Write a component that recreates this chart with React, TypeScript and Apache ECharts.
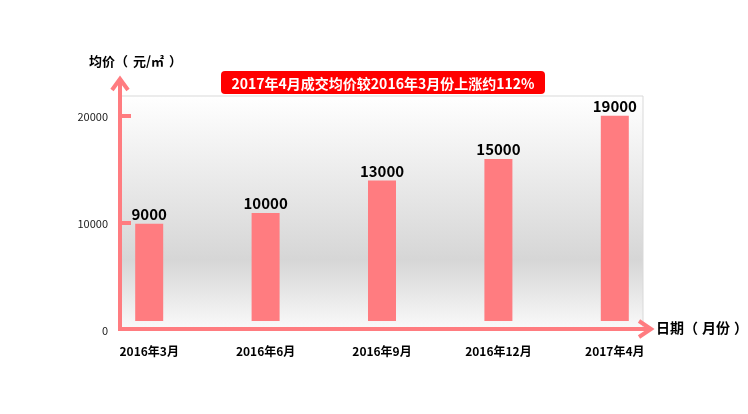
import React, { useEffect, useRef } from "react";
import * as echarts from "echarts";

const categories = ["2016年3月", "2016年6月", "2016年9月", "2016年12月", "2017年4月"];
const prices = [9000, 10000, 13000, 15000, 19000];
const yTickLabels = [0, 10000, 20000];
const yTickMarks = [10000, 20000];
const yNameParts = ["均价", "（", "元/㎡", "）"];
const xNameParts = ["日期", "（", "月份", "）"];
const headline = "2017年4月成交均价较2016年3月份上涨约112%";

const PINK = "#ff7c80";
const FONT = "'Noto Sans CJK SC', 'Noto Sans', sans-serif";

function richName(parts: string[]) {
  const keys = ["a", "o", "a", "c"];
  return parts.map((p, i) => `{${keys[i]}|${p}}`).join("");
}

export default function App() {
  const ref = useRef<HTMLDivElement>(null);
  useEffect(() => {
    if (!ref.current) return;
    const chart = echarts.init(ref.current, undefined, { renderer: "svg" });
    const nameRich = (size: number, outer: number, inner: number) => {
      const base = { fontSize: size, fontWeight: "bold", fill: "#000", fontFamily: FONT };
      return {
        a: base,
        o: { ...base, padding: [0, inner, 0, outer] },
        c: { ...base, padding: [0, outer, 0, inner] },
      };
    };
    chart.setOption({
      animation: false,
      textStyle: { fontFamily: FONT },
      grid: [
        {
          left: 121,
          right: 105,
          top: 96,
          bottom: 84,
          show: true,
          borderColor: "#d9d9d9",
          borderWidth: 1,
          backgroundColor: new echarts.graphic.LinearGradient(0, 0, 0, 1, [
            { offset: 0, color: "#ffffff" },
            { offset: 0.7, color: "#d6d6d6" },
            { offset: 1, color: "#fafafa" },
          ]),
        },
        { left: 91, right: 75, top: 105, bottom: 93 },
      ],
      xAxis: [
        { type: "category", gridIndex: 0, data: categories, show: false },
        {
          type: "category",
          gridIndex: 1,
          data: categories,
          axisLine: { show: false },
          axisTick: { show: false },
          axisLabel: {
            margin: 23,
            color: "#000",
            fontWeight: "bold",
            fontSize: 12,
            fontFamily: FONT,
          },
        },
      ],
      yAxis: [
        {
          type: "value",
          gridIndex: 0,
          min: 0,
          max: 21870,
          splitLine: { show: false },
          axisLine: { show: false },
          axisTick: {
            show: true,
            inside: true,
            length: 10,
            customValues: yTickMarks,
            lineStyle: { color: PINK, width: 4 },
          },
          axisLabel: {
            customValues: yTickLabels,
            formatter: (v: number) => String(v),
            margin: 13,
            color: "#222",
            fontSize: 11,
            fontFamily: FONT,
          },
        },
        { type: "value", gridIndex: 1, min: 0, max: 20000, show: false },
      ],
      series: [
        {
          type: "bar",
          xAxisIndex: 1,
          yAxisIndex: 1,
          data: prices,
          barWidth: 28,
          itemStyle: { color: PINK },
          label: {
            show: true,
            position: "top",
            distance: 3,
            color: "#000",
            fontWeight: "bold",
            fontSize: 15,
            fontFamily: FONT,
          },
        },
      ],
      graphic: [
        {
          type: "polyline",
          z: 100,
          shape: { points: [[120, 331], [120, 80]] },
          style: { stroke: PINK, lineWidth: 4, fill: null },
        },
        {
          type: "polyline",
          z: 100,
          shape: { points: [[112, 90], [120, 79], [128, 90]] },
          style: { stroke: PINK, lineWidth: 4, fill: null },
        },
        {
          type: "polyline",
          z: 100,
          shape: { points: [[118, 329], [650, 329]] },
          style: { stroke: PINK, lineWidth: 4, fill: null },
        },
        {
          type: "polyline",
          z: 100,
          shape: { points: [[639, 321], [651, 329], [639, 337]] },
          style: { stroke: PINK, lineWidth: 4, fill: null },
        },
        {
          type: "text",
          z: 100,
          left: 89,
          top: 54,
          style: {
            text: richName(yNameParts),
            rich: nameRich(13, 0, 5),
            font: `bold 13px ${FONT}`,
          },
        },
        {
          type: "text",
          z: 100,
          left: 656,
          top: 320,
          style: {
            text: richName(xNameParts),
            rich: nameRich(14, 0, 4),
            font: `bold 14px ${FONT}`,
          },
        },
        {
          type: "rect",
          z: 100,
          shape: { x: 221, y: 71, width: 324, height: 23, r: 4 },
          style: { fill: "#ff0000" },
        },
        {
          type: "text",
          z: 101,
          x: 383,
          y: 82.5,
          style: {
            text: headline,
            fill: "#fff",
            font: `bold 14px ${FONT}`,
            align: "center",
            verticalAlign: "middle",
          },
        },
      ],
    });
    return () => chart.dispose();
  }, []);
  return (
    <div
      ref={ref}
      style={{ position: "fixed", left: 0, top: 0, width: 748, height: 414 }}
    />
  );
}
